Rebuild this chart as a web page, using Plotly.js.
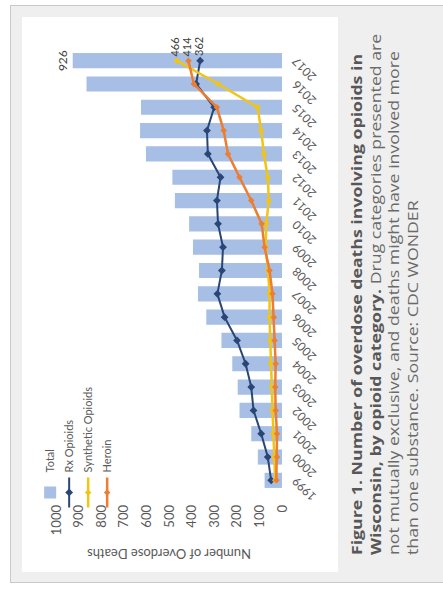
<!DOCTYPE html>
<html><head><meta charset="utf-8">
<script src="https://cdn.plot.ly/plotly-3.0.1.min.js"></script>
<style>
html,body{margin:0;padding:0;width:443px;height:592px;overflow:hidden;background:#fff;}
#stage{position:absolute;left:0;top:0;width:592px;height:443px;transform-origin:0 0;transform:translateY(592px) rotate(-90deg);}
#frame{position:absolute;left:9px;top:10px;width:578px;height:440px;background:#efefef;border:1px solid #c9c9c9;box-sizing:border-box;}
#panel{position:absolute;left:20px;top:22px;width:555px;height:316px;background:#fff;}
#chart{position:absolute;left:0;top:0;width:592px;height:443px;}
#caption{position:absolute;left:37px;top:347px;font-family:'Open Sans',sans-serif;font-size:15px;line-height:18.5px;color:#6a6a6a;white-space:nowrap;transform-origin:0 0;transform:scaleX(1.18);}
#caption b{color:#575757;}
</style></head>
<body>
<div id="stage">
  <div id="frame"></div>
  <div id="panel"></div>
  <div id="chart"></div>
  <div id="caption"><b>Figure 1. Number of overdose deaths involving opioids in</b><br><b>Wisconsin, by opioid category.</b> Drug categories presented are<br>not mutually exclusive, and deaths might have involved more<br>than one substance. Source: CDC WONDER</div>
</div>
<script>
const years = ['1999','2000','2001','2002','2003','2004','2005','2006','2007','2008','2009','2010','2011','2012','2013','2014','2015','2016','2017'];
const totalDeaths = [77,107,136,188,196,220,268,335,372,367,394,411,474,485,602,628,624,865,926];
const rxOpioids = [48,63,92,126,136,161,199,254,286,266,261,283,288,272,328,332,300,380,362];
const syntheticOpioids = [30,35,38,42,45,50,52,55,55,62,72,70,58,63,80,92,108,282,466];
const heroin = [25,22,22,28,30,28,33,36,42,55,77,90,136,188,239,258,288,390,414];

const last = years.length - 1;
const lastOnly = arr => arr.map((v, i) => i === last ? String(v) : '');

const axisFont = {family: 'Lato, "Open Sans", sans-serif', size: 12, color: '#595959'};

const traces = [
  {type: 'bar', name: 'Total', x: years, y: totalDeaths, marker: {color: '#a7bee5'},
   text: lastOnly(totalDeaths), textposition: 'outside', textangle: 0, constraintext: 'none', cliponaxis: false,
   outsidetextfont: {family: axisFont.family, size: 12, color: '#404040'}},
  {type: 'scatter', mode: 'lines+markers+text', name: 'Rx Opioids', x: years, y: rxOpioids,
   line: {color: '#2a4676', width: 2}, marker: {symbol: 'diamond', size: 6, color: '#2a4676'},
   text: lastOnly(rxOpioids), textposition: 'middle right', textfont: {family: axisFont.family, size: 11, color: '#404040'}, cliponaxis: false},
  {type: 'scatter', mode: 'lines+markers+text', name: 'Synthetic Opioids', x: years, y: syntheticOpioids,
   line: {color: '#f2c414', width: 2.5}, marker: {symbol: 'diamond', size: 5, color: '#f2c414'},
   text: lastOnly(syntheticOpioids), textposition: 'middle right', textfont: {family: axisFont.family, size: 11, color: '#404040'}, cliponaxis: false},
  {type: 'scatter', mode: 'lines+markers+text', name: 'Heroin', x: years, y: heroin,
   line: {color: '#ed7d31', width: 2.5}, marker: {symbol: 'diamond', size: 5, color: '#ed7d31'},
   text: lastOnly(heroin), textposition: 'middle right', textfont: {family: axisFont.family, size: 11, color: '#404040'}, cliponaxis: false}
];

const layout = {
  width: 592, height: 443,
  margin: {l: 100.4, r: 49.3, t: 56, b: 160.5, pad: 0, autoexpand: false},
  paper_bgcolor: 'rgba(0,0,0,0)', plot_bgcolor: 'rgba(0,0,0,0)',
  font: axisFont,
  bargap: 0.35,
  showlegend: true,
  legend: {x: -0.046, y: 1.09, xanchor: 'left', yanchor: 'top', bgcolor: 'rgba(0,0,0,0)',
           font: {family: axisFont.family, size: 11, color: '#595959'}, tracegroupgap: 0},
  xaxis: {type: 'category', range: [-0.5, years.length - 0.5], autorange: false, tickangle: -45,
          showgrid: false, showline: false, zeroline: false, ticks: '',
          tickfont: {family: axisFont.family, size: 12, color: '#595959'}, ticklabelstandoff: 4},
  yaxis: {range: [0, 1000], dtick: 100, showgrid: false, zeroline: false, showline: false, ticks: '',
          tickfont: {family: axisFont.family, size: 13, color: '#595959'}, ticklabelstandoff: 12,
          title: {text: 'Number of Overdose Deaths', font: {family: axisFont.family, size: 13, color: '#595959'}, standoff: 10}}
};

Plotly.newPlot('chart', traces, layout, {staticPlot: true, displayModeBar: false});
</script>
</body></html>
